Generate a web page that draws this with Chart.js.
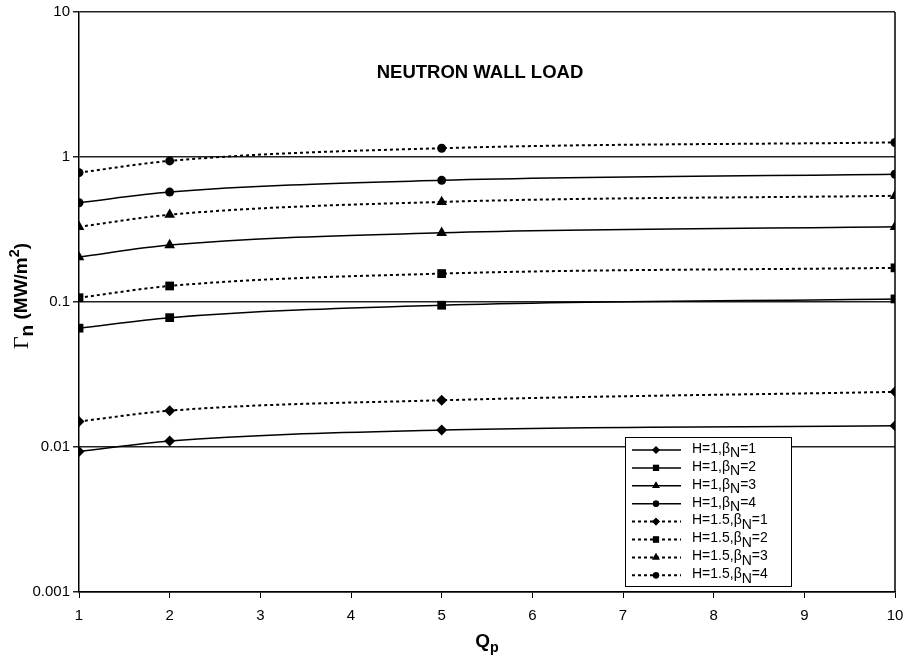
<!DOCTYPE html>
<html>
<head>
<meta charset="utf-8">
<script src="https://cdn.jsdelivr.net/npm/chart.js@4"></script>
<style>
  html,body{margin:0;padding:0;background:#fff;}
  #wrap{width:906px;height:661px;position:relative;}
</style>
</head>
<body>
<div id="wrap"><canvas id="wall"></canvas></div>
<script>
// Neutron wall load vs Qp, log scale
const qp = [1, 2, 5, 10];
const yTicks = [0.001, 0.01, 0.1, 1, 10];
const xTicks = [1, 2, 3, 4, 5, 6, 7, 8, 9, 10];

const hValues = ['1', '1', '1', '1', '1.5', '1.5', '1.5', '1.5'];
const betaN = [1, 2, 3, 4, 1, 2, 3, 4];

const h1b1 = [0.0093, 0.011, 0.0131, 0.014];
const h1b2 = [0.066, 0.078, 0.095, 0.105];
const h1b3 = [0.204, 0.247, 0.30, 0.33];
const h1b4 = [0.484, 0.573, 0.69, 0.76];
const h15b1 = [0.015, 0.0178, 0.021, 0.024];
const h15b2 = [0.107, 0.129, 0.157, 0.172];
const h15b3 = [0.33, 0.40, 0.49, 0.54];
const h15b4 = [0.78, 0.94, 1.15, 1.26];

const seriesVals = [h1b1, h1b2, h1b3, h1b4, h15b1, h15b2, h15b3, h15b4];
const markers = ['rectRot', 'rect', 'triangle', 'circle'];
const markerSize = {rectRot: 5.5, rect: 6.2, triangle: 6.2, circle: 4.5};

const FONT = "'Liberation Sans', Arial, sans-serif";

const datasets = seriesVals.map((vals, i) => {
  const shape = markers[i % 4];
  const dotted = i >= 4;
  return {
    label: 'H=' + hValues[i] + ',βN=' + betaN[i],
    data: vals.map((v, k) => ({x: qp[k], y: v})),
    borderColor: '#000',
    backgroundColor: '#000',
    borderWidth: dotted ? 2 : 1.5,
    borderDash: dotted ? [3, 3] : [],
    pointStyle: shape,
    pointRadius: markerSize[shape],
    pointBorderWidth: 0,
    cubicInterpolationMode: 'monotone',
    showLine: true,
    fill: false
  };
});

// draw a run of text pieces, some as sub/superscripts; returns end x
function drawRich(ctx, parts, x, y, size) {
  parts.forEach(p => {
    const s = p.small ? size * 0.75 : (p.big ? size * 1.15 : size);
    ctx.font = (p.bold === false ? '' : 'bold ') + s + 'px ' + (p.font || FONT);
    const dy = p.sub ? size * 0.32 : (p.sup ? -size * 0.38 : 0);
    ctx.fillText(p.t, x, y + dy);
    x += ctx.measureText(p.t).width;
  });
  return x;
}
function richWidth(ctx, parts, size) {
  let w = 0;
  parts.forEach(p => {
    const s = p.small ? size * 0.75 : (p.big ? size * 1.15 : size);
    ctx.font = (p.bold === false ? '' : 'bold ') + s + 'px ' + (p.font || FONT);
    w += ctx.measureText(p.t).width;
  });
  return w;
}

const decor = {
  id: 'decor',
  afterDraw(chart) {
    const ctx = chart.ctx;
    const a = chart.chartArea;
    ctx.save();
    // right edge of plot
    ctx.strokeStyle = '#000';
    ctx.lineWidth = 1.5;
    ctx.beginPath();
    ctx.moveTo(a.right, a.top);
    ctx.lineTo(a.right, a.bottom);
    ctx.stroke();

    ctx.fillStyle = '#000';
    ctx.textBaseline = 'middle';
    ctx.textAlign = 'center';
    ctx.font = 'bold 18.5px ' + FONT;
    ctx.fillText('NEUTRON WALL LOAD', 480, 73);

    // x title
    ctx.textAlign = 'left';
    const xt = [{t: 'Q'}, {t: 'p', sub: true, small: true}];
    const xw = richWidth(ctx, xt, 19);
    drawRich(ctx, xt, 487 - xw / 2, 642, 19);

    // y title, rotated
    ctx.save();
    ctx.translate(22, 296);
    ctx.rotate(-Math.PI / 2);
    const yt = [
      {t: 'Γ', bold: false, big: true, font: "'Liberation Serif', serif"},
      {t: 'n', sub: true},
      {t: ' (MW/m'},
      {t: '2', sup: true, small: true},
      {t: ')'}
    ];
    const yw = richWidth(ctx, yt, 19);
    drawRich(ctx, yt, -yw / 2, 0, 19);
    ctx.restore();

    // legend box
    const lx = 625, ly = 437, lw = 166, lh = 149;
    ctx.fillStyle = '#fff';
    ctx.fillRect(lx, ly, lw, lh);
    ctx.strokeStyle = '#000';
    ctx.lineWidth = 1;
    ctx.strokeRect(lx + 0.5, ly + 0.5, lw, lh);
    const rowH = 17.9;
    chart.data.datasets.forEach((ds, i) => {
      const cy = ly + 13 + i * rowH;
      ctx.strokeStyle = '#000';
      ctx.lineWidth = ds.borderWidth;
      ctx.setLineDash(ds.borderDash);
      ctx.beginPath();
      ctx.moveTo(lx + 7, cy);
      ctx.lineTo(lx + 56, cy);
      ctx.stroke();
      ctx.setLineDash([]);
      ctx.fillStyle = '#000';
      Chart.helpers.drawPoint(ctx, {pointStyle: ds.pointStyle, radius: ds.pointRadius * 0.7, borderWidth: 0, rotation: 0}, lx + 31, cy);
      ctx.fill();
      ctx.textAlign = 'left';
      drawRich(ctx, [
        {t: 'H=' + hValues[i] + ',β', bold: false},
        {t: 'N', sub: true, bold: false},
        {t: '=' + betaN[i], bold: false}
      ], lx + 67, cy - 1, 14);
    });
    ctx.restore();
  }
};

new Chart(document.getElementById('wall'), {
  type: 'scatter',
  data: {datasets},
  plugins: [decor],
  options: {
    responsive: true,
    maintainAspectRatio: false,
    animation: false,
    layout: {padding: {left: 0, right: 11, top: 12, bottom: 0}},
    plugins: {legend: {display: false}, tooltip: {enabled: false}},
    scales: {
      x: {
        type: 'linear',
        min: 1, max: 10,
        afterBuildTicks: s => { s.ticks = xTicks.map(v => ({value: v})); },
        afterFit: s => { s.height = 69; s.paddingLeft = 0; s.paddingRight = 0; },
        border: {display: true, color: '#000', width: 1.5},
        grid: {display: true, drawOnChartArea: false, drawTicks: true, tickLength: 6, color: '#000', lineWidth: 1},
        ticks: {color: '#000', font: {family: FONT, size: 15}, padding: 9, maxRotation: 0}
      },
      y: {
        type: 'logarithmic',
        min: 0.001, max: 10,
        afterBuildTicks: s => { s.ticks = yTicks.map(v => ({value: v})); },
        afterFit: s => { s.width = 79; s.paddingTop = 0; s.paddingBottom = 0; },
        border: {display: true, color: '#000', width: 1.5},
        grid: {display: true, drawTicks: true, tickLength: 6, color: '#222', lineWidth: 1.5},
        ticks: {color: '#000', font: {family: FONT, size: 15}, padding: 3, callback: v => String(v)}
      }
    }
  }
});
</script>
</body>
</html>
